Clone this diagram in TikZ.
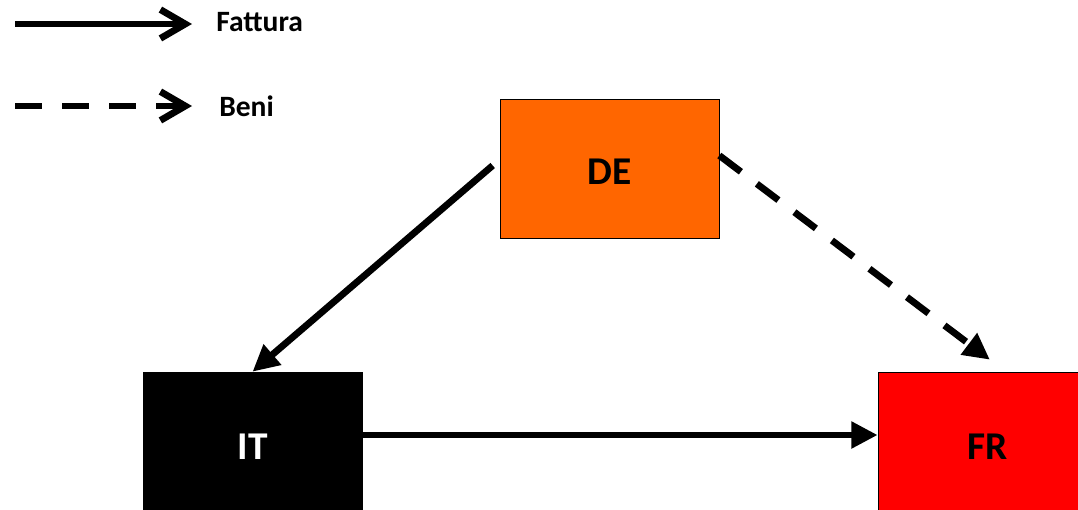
\documentclass[tikz,border=0pt]{standalone}
\usepackage{fontspec}
\setmainfont{Carlito}
\usetikzlibrary{arrows.meta}
\definecolor{arancio}{RGB}{255,102,0}
\definecolor{rosso}{RGB}{255,0,0}

\begin{document}
\begin{tikzpicture}[x=0.025cm,y=-0.025cm,
  paese/.style={draw=black,thin,minimum width=5.475cm,font=\bfseries\fontsize{28}{32}\selectfont},
  fattura/.style={line width=0.17cm,-{Triangle[length=0.66cm,width=0.64cm]}},
  beni/.style={fattura,dash pattern=on 0.675cm off 0.5cm},
  legenda/.style={line width=0.17cm,-{Straight Barb[length=0.62cm,width=0.72cm]}},
  voce/.style={anchor=west,inner sep=0pt,font=\bfseries\fontsize{21}{25}\selectfont}]
\clip (0,0) rectangle (1078,509);
\fill[white] (0,0) rectangle (1078,509);
% legenda
\coordinate (f1) at (15,24);
\coordinate (f2) at (192,24);
\coordinate (b1) at (15,106);
\coordinate (b2) at (192,106);
\draw[legenda] (f1) -- (f2);
\draw[legenda,dash pattern=on 0.675cm off 0.5cm] (b1) -- (b2);
\node[voce] (tf) at (216,22) {Fattura};
\node[voce] (tb) at (219,106) {Beni};
% paesi
\node[paese,fill=arancio,minimum height=3.475cm,text height=0.82cm] (DE) at (609.5,168.5) {DE};
\node[paese,fill=black,text=white,minimum height=3.75cm] (IT) at (252.5,447) {IT};
\node[paese,fill=rosso,minimum height=3.75cm] (FR) at (987.5,447) {FR};
% flussi
\draw[fattura] ([xshift=-0.175cm,yshift=0.075cm]DE.west) -- (IT.north);
\draw[beni] ([yshift=0.325cm]DE.east) -- ([shift={(0.06cm,0.3cm)}]FR.north);
\draw[fattura] ([yshift=0.3cm]IT.east) -- ([yshift=0.3cm]FR.west);
\end{tikzpicture}
\end{document}
